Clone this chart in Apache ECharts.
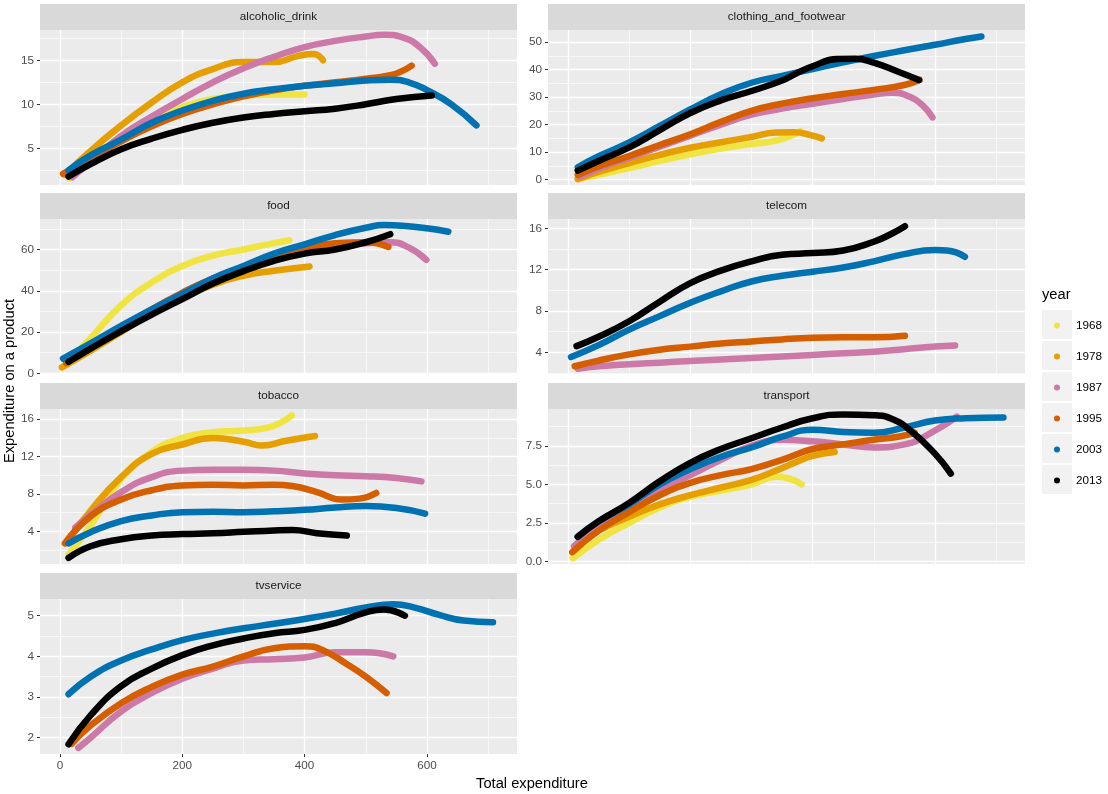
<!DOCTYPE html>
<html lang="en">
<head>
<meta charset="UTF-8">
<title>Expenditure on a product vs total expenditure</title>
<style>html,body{margin:0;padding:0;background:#fff;}</style>
</head>
<body>
<div id="main" style="width:1108px;height:794px;"></div>
<script src="https://cdn.jsdelivr.net/npm/echarts@6/dist/echarts.min.js"></script>
<script>
var years = ['1968', '1978', '1987', '1995', '2003', '2013'];
var products = ['alcoholic_drink', 'clothing_and_footwear', 'food', 'telecom', 'tobacco', 'transport', 'tvservice'];

var xTicks = [0, 200, 400, 600];
var xMinorTicks = [100, 300, 500, 700];
var yTicks = [[5, 10, 15], [0, 10, 20, 30, 40, 50], [0, 20, 40, 60], [4, 8, 12, 16], [4, 8, 12, 16], [0, 2.5, 5, 7.5], [2, 3, 4, 5]];
var yMinorTicks = [[2.5, 7.5, 12.5, 17.5], [5, 15, 25, 35, 45], [10, 30, 50, 70], [2, 6, 10, 14], [2, 6, 10, 14], [1.25, 3.75, 6.25, 8.75], [2.5, 3.5, 4.5]];

// one entry per year (1968 .. 2013), null where the year is missing
var alcoholicDrink = [
  [[15,1.6],[50,3.5],[100,6.0],[150,8.2],[200,9.7],[250,10.6],[300,11.0],[350,11.1],[400,11.1]],
  [[8,2.0],[50,4.7],[100,7.6],[150,10.2],[200,12.5],[250,14.0],[300,14.8],[350,14.8],[390,15.5],[415,15.7],[430,15.0]],
  [[20,1.7],[50,3.5],[100,6.4],[150,8.6],[200,10.6],[250,12.5],[300,14.1],[350,15.4],[400,16.5],[450,17.2],[500,17.7],[530,17.9],[560,17.6],[590,16.4],[613,14.6]],
  [[5,2.1],[50,3.9],[100,5.8],[150,7.5],[200,8.9],[250,10.0],[300,10.9],[350,11.6],[400,12.1],[450,12.5],[500,12.9],[540,13.3],[560,13.8],[575,14.4]],
  [[14,2.5],[50,4.2],[100,6.0],[150,7.9],[200,9.3],[250,10.4],[300,11.2],[350,11.7],[400,12.1],[450,12.4],[500,12.7],[540,12.8],[570,12.5],[600,11.6],[640,10.0],[681,7.6]],
  [[14,1.8],[50,3.2],[100,4.9],[150,6.1],[200,7.1],[250,7.9],[300,8.5],[350,8.9],[400,9.2],[450,9.5],[500,10.0],[550,10.6],[608,11.0]]
];
var clothingFootwear = [
  [[16,0.2],[50,1.8],[100,4.2],[150,6.8],[200,9.2],[250,11.3],[300,12.9],[340,14.2],[365,16.0],[380,17.6]],
  [[16,0.2],[50,2.8],[100,6.0],[150,9.0],[200,11.6],[250,13.6],[300,15.5],[340,17.1],[370,17.2],[400,16.0],[415,15.0]],
  [[19,1.0],[50,4.0],[100,8.0],[150,12.0],[200,16.0],[250,20.0],[300,23.6],[350,25.8],[400,27.6],[450,29.3],[500,30.9],[530,31.6],[560,30.0],[580,27.0],[596,22.6]],
  [[16,1.7],[50,4.8],[100,8.6],[150,12.6],[200,16.5],[250,21.0],[300,25.0],[350,27.6],[400,29.6],[450,31.1],[500,32.6],[550,34.4],[575,36.2]],
  [[16,4.5],[50,8.5],[100,13.5],[150,19.5],[200,25.5],[250,31.0],[300,35.2],[350,37.7],[400,40.2],[450,42.6],[500,44.9],[550,47.0],[600,49.0],[650,51.1],[676,52.0]],
  [[16,3.3],[50,6.8],[100,11.7],[150,18.0],[200,24.2],[250,28.8],[300,32.2],[350,36.0],[375,38.8],[400,41.2],[440,43.8],[470,43.9],[500,42.5],[540,39.2],[574,36.2]]
];
var food = [
  [[15,6.0],[50,17.0],[100,33.0],[150,44.0],[200,52.0],[250,57.0],[300,60.0],[340,62.5],[375,64.5]],
  [[3,2.9],[50,11.0],[100,20.0],[150,29.0],[200,36.5],[250,43.0],[300,47.3],[350,49.7],[408,51.8]],
  [[15,6.0],[50,13.0],[100,22.0],[150,31.0],[200,39.0],[250,46.0],[300,51.5],[350,56.0],[400,59.5],[450,61.5],[500,63.0],[540,63.5],[570,61.0],[599,55.0]],
  [[10,5.0],[50,12.5],[100,22.0],[150,31.0],[200,39.0],[250,46.0],[300,51.5],[350,56.5],[400,60.5],[450,63.0],[500,63.5],[537,61.2]],
  [[5,7.2],[50,14.5],[100,23.0],[150,31.0],[200,38.5],[250,46.0],[300,52.0],[350,58.0],[400,62.5],[450,67.0],[500,70.5],[530,71.8],[560,71.5],[600,70.3],[635,68.6]],
  [[14,5.6],[50,12.0],[100,20.5],[150,28.5],[200,36.0],[250,43.5],[300,49.5],[350,54.5],[400,58.0],[450,60.0],[500,63.5],[540,67.4]]
];
var telecom = [
  null,
  null,
  [[16,2.4],[50,2.65],[100,2.85],[150,3.0],[200,3.15],[250,3.3],[300,3.45],[350,3.6],[400,3.75],[450,3.9],[500,4.05],[550,4.3],[600,4.55],[633,4.65]],
  [[11,2.65],[50,3.2],[100,3.8],[150,4.25],[200,4.55],[250,4.85],[300,5.05],[350,5.25],[400,5.4],[450,5.45],[500,5.45],[551,5.6]],
  [[5,3.55],[50,4.7],[100,6.2],[150,7.5],[200,8.8],[250,9.9],[300,10.85],[350,11.4],[400,11.8],[450,12.2],[500,12.8],[550,13.5],[600,13.9],[620,13.85],[649,13.25]],
  [[14,4.6],[50,5.5],[100,7.0],[150,8.9],[200,10.7],[250,11.9],[300,12.8],[350,13.45],[400,13.6],[450,13.85],[500,14.7],[530,15.5],[551,16.2]]
];
var tobacco = [
  [[14,1.5],[50,4.6],[100,9.6],[150,12.5],[200,14.0],[250,14.6],[300,14.8],[340,15.1],[379,16.4]],
  [[11,2.8],[50,6.2],[100,9.8],[150,12.3],[200,13.3],[250,14.0],[300,13.6],[330,13.2],[370,13.7],[417,14.2]],
  [[25,4.4],[50,5.8],[100,8.2],[150,9.8],[200,10.5],[250,10.6],[300,10.6],[350,10.5],[400,10.2],[450,10.0],[500,9.9],[550,9.7],[591,9.35]],
  [[8,2.7],[50,5.6],[100,7.4],[150,8.4],[200,8.9],[250,9.0],[300,8.9],[350,9.0],[380,8.85],[420,8.2],[460,7.4],[490,7.5],[517,8.1]],
  [[14,2.7],[50,3.9],[100,5.1],[150,5.7],[200,6.05],[250,6.1],[300,6.05],[350,6.15],[400,6.3],[450,6.55],[500,6.7],[550,6.5],[597,5.9]],
  [[14,1.15],[50,2.4],[100,3.15],[150,3.55],[200,3.7],[250,3.8],[300,3.95],[350,4.1],[380,4.15],[420,3.8],[469,3.55]]
];
var transport = [
  [[8,0.2],[50,1.4],[100,2.5],[150,3.5],[200,4.2],[250,4.6],[300,5.0],[340,5.5],[360,5.4],[382,5.0]],
  [[11,1.0],[50,2.0],[100,2.9],[150,3.7],[200,4.3],[250,4.8],[300,5.3],[340,5.9],[370,6.4],[400,6.85],[436,7.1]],
  [[10,1.0],[50,2.3],[100,3.5],[150,4.6],[200,5.6],[250,6.6],[300,7.5],[350,7.9],[400,7.8],[450,7.6],[500,7.4],[550,7.6],[600,8.5],[636,9.4]],
  [[7,0.6],[50,2.0],[100,3.2],[150,4.3],[200,5.1],[250,5.6],[300,6.0],[350,6.6],[400,7.3],[450,7.6],[500,7.9],[540,8.1],[567,8.35]],
  [[16,1.6],[50,2.6],[100,3.7],[150,5.0],[200,6.0],[250,6.8],[300,7.4],[350,8.1],[400,8.55],[450,8.4],[500,8.35],[550,8.7],[600,9.15],[650,9.3],[712,9.35]],
  [[16,1.6],[50,2.6],[100,3.8],[150,5.2],[200,6.4],[250,7.3],[300,8.0],[350,8.7],[400,9.3],[450,9.55],[500,9.5],[530,9.25],[560,8.5],[600,7.0],[626,5.7]]
];
var tvservice = [
  null,
  null,
  [[30,1.75],[50,2.0],[100,2.65],[150,3.1],[200,3.45],[250,3.7],[300,3.9],[350,3.93],[400,3.97],[450,4.1],[500,4.1],[545,4.0]],
  [[19,1.85],[50,2.3],[100,2.85],[150,3.25],[200,3.55],[250,3.75],[300,4.0],[350,4.2],[400,4.25],[430,4.15],[470,3.8],[500,3.5],[534,3.1]],
  [[14,3.07],[50,3.5],[100,3.9],[150,4.17],[200,4.4],[250,4.56],[300,4.69],[350,4.8],[400,4.92],[450,5.05],[500,5.2],[545,5.28],[580,5.2],[620,5.02],[660,4.88],[708,4.84]],
  [[14,1.84],[50,2.55],[100,3.27],[150,3.7],[200,4.03],[250,4.27],[300,4.44],[350,4.57],[400,4.65],[450,4.82],[500,5.08],[530,5.15],[564,5.0]]
];

var panelData = [alcoholicDrink, clothingFootwear, food, telecom, tobacco, transport, tvservice];

// layout (ggplot facet_wrap look)
var colors = ['#F0E442', '#E69F00', '#CC79A7', '#D55E00', '#0072B2', '#000000'];
var font = "'Liberation Sans', Arial, sans-serif";
var smallSize = 11.7, titleSize = 14.7;
var colLeft = [40, 548];
var rowTop = [30, 219, 409, 599];
var panelW = 477, panelH = 155, stripH = 26;
var xRange = [-32.7, 747.3];
var yRange = [[0.83, 18.44], [-1.94, 54.36], [-0.3, 74.76], [1.9, 16.9], [0.5, 17.1], [-0.17, 9.9], [1.6, 5.41]];

var chart = echarts.init(document.getElementById('main'));

var grids = [], xAxes = [], yAxes = [], series = [], graphics = [];

products.forEach(function (name, i) {
  var col = i % 2, row = Math.floor(i / 2);
  var left = colLeft[col], top = rowTop[row];
  var bottomPanel = (i === 6);

  grids.push({
    left: left, top: top, width: panelW, height: panelH,
    show: true, backgroundColor: '#EBEBEB', borderWidth: 0, containLabel: false
  });

  // major x
  xAxes.push({
    type: 'value', gridIndex: i, min: xRange[0], max: xRange[1], position: 'bottom',
    axisLine: { show: false, onZero: false },
    axisTick: { show: bottomPanel, customValues: xTicks, length: 3, lineStyle: { color: '#333333' } },
    axisLabel: { show: bottomPanel, customValues: xTicks, color: '#4D4D4D', fontSize: smallSize, fontFamily: font, margin: 6 },
    splitLine: { show: true, lineStyle: { color: '#FFFFFF', width: 1.3 } }
  });
  // minor x
  xAxes.push({
    type: 'value', gridIndex: i, min: xRange[0], max: xRange[1], position: 'bottom',
    axisLine: { show: false, onZero: false },
    axisTick: { show: false, customValues: xMinorTicks },
    axisLabel: { show: false, customValues: xMinorTicks },
    splitLine: { show: true, lineStyle: { color: '#FFFFFF', width: 0.6 } },
    z: 0
  });

  var fmt = (name === 'transport') ? function (v) { return v.toFixed(1); } : function (v) { return String(v); };
  yAxes.push({
    type: 'value', gridIndex: i, min: yRange[i][0], max: yRange[i][1], position: 'left',
    axisLine: { show: false, onZero: false },
    axisTick: { show: true, customValues: yTicks[i], length: 3, lineStyle: { color: '#333333' } },
    axisLabel: { show: true, customValues: yTicks[i], color: '#4D4D4D', fontSize: smallSize, fontFamily: font, margin: 6, formatter: fmt },
    splitLine: { show: true, lineStyle: { color: '#FFFFFF', width: 1.3 } }
  });
  yAxes.push({
    type: 'value', gridIndex: i, min: yRange[i][0], max: yRange[i][1], position: 'left',
    axisLine: { show: false, onZero: false },
    axisTick: { show: false, customValues: yMinorTicks[i] },
    axisLabel: { show: false, customValues: yMinorTicks[i] },
    splitLine: { show: true, lineStyle: { color: '#FFFFFF', width: 0.6 } },
    z: 0
  });

  // facet strip
  graphics.push({
    type: 'rect', left: left, top: top - stripH, silent: true,
    shape: { width: panelW, height: stripH },
    style: { fill: '#D9D9D9' }
  });
  graphics.push({
    type: 'text', x: left + panelW / 2, y: top - stripH / 2, silent: true,
    style: { text: name, fill: '#1A1A1A', font: smallSize + 'px ' + font, textAlign: 'center', textVerticalAlign: 'middle' }
  });

  panelData[i].forEach(function (pts, j) {
    if (!pts) return;
    series.push({
      type: 'line', name: years[j],
      xAxisIndex: 2 * i, yAxisIndex: 2 * i,
      data: pts, smooth: true, showSymbol: false, symbol: 'none',
      lineStyle: { color: colors[j], width: 6.5, cap: 'round', join: 'round' },
      itemStyle: { color: colors[j] },
      emphasis: { disabled: true }, silent: true, animation: false
    });
  });
});

// legend key backgrounds and title
years.forEach(function (y, j) {
  graphics.push({
    type: 'rect', left: 1042, top: 310 + 31 * j, silent: true, z: 0,
    shape: { width: 30, height: 29 }, style: { fill: '#F2F2F2' }
  });
});
graphics.push({
  type: 'text', x: 1042, y: 295, silent: true,
  style: { text: 'year', fill: '#000000', font: titleSize + 'px ' + font, textAlign: 'left', textVerticalAlign: 'middle' }
});
// axis titles
graphics.push({
  type: 'text', x: 532, y: 784, silent: true,
  style: { text: 'Total expenditure', fill: '#000000', font: titleSize + 'px ' + font, textAlign: 'center', textVerticalAlign: 'middle' }
});
graphics.push({
  type: 'text', x: 10, y: 381, rotation: Math.PI / 2, silent: true,
  style: { text: 'Expenditure on a product', fill: '#000000', font: titleSize + 'px ' + font, textAlign: 'center', textVerticalAlign: 'middle' }
});

var option = {
  backgroundColor: '#FFFFFF',
  animation: false,
  grid: grids,
  xAxis: xAxes,
  yAxis: yAxes,
  legend: {
    data: years, orient: 'vertical', left: 1054, top: 310, padding: 0,
    icon: 'circle', itemWidth: 28, itemHeight: 6, itemGap: 0,
    itemStyle: { borderWidth: 0 },
    selectedMode: false,
    textStyle: { color: '#000000', fontSize: smallSize, fontFamily: font, lineHeight: 31 }
  },
  graphic: { elements: graphics },
  series: series
};

chart.setOption(option);
</script>
</body>
</html>
